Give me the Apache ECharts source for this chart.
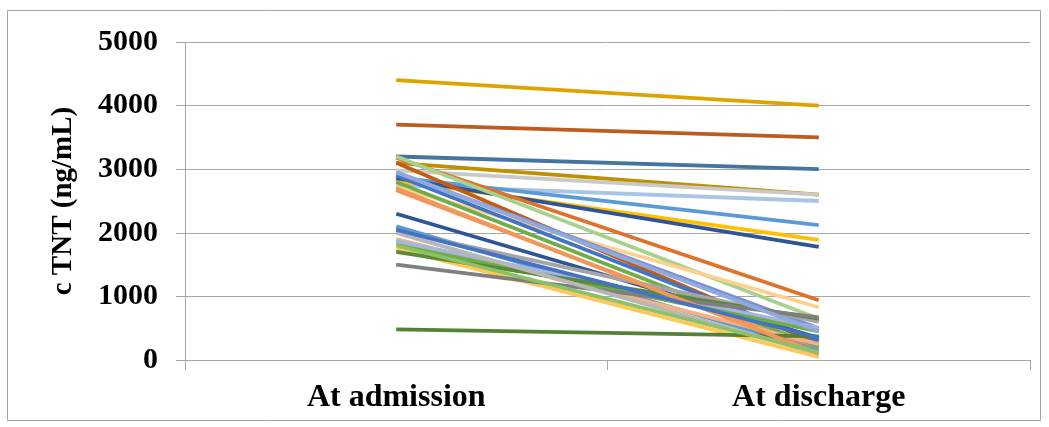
<!DOCTYPE html>
<html>
<head>
<meta charset="utf-8">
<script src="https://cdn.jsdelivr.net/npm/echarts@6/dist/echarts.min.js"></script>
<style>
html,body{margin:0;padding:0;background:#fff;}
#chart{width:1049px;height:427px;}
</style>
</head>
<body>
<div id="chart"></div>
<script>
const categories = ['At admission', 'At discharge'];
const yTicks = [0, 1000, 2000, 3000, 4000, 5000];
const atAdmission = [4400, 3700, 3200, 3100, 2980, 2750, 2870, 2820, 2860, 3180, 3200, 2720, 3100, 2950, 2900, 2800, 2670, 2300, 2100, 2030, 1900, 1870, 1810, 1750, 1700, 1500, 480, 2000, 2700, 2050, 2950, 1800];
const atDischarge = [4000, 3500, 3000, 2600, 2600, 2500, 2120, 1890, 1780, 940, 650, 830, 250, 500, 300, 200, 150, 350, 150, 600, 250, 500, 450, 50, 650, 670, 370, 100, 100, 350, 450, 120];
const palette = ['#DDA400', '#BE5B1E', '#44749F', '#BF9000', '#C9C9C9', '#A9C4E6', '#5B9BD5', '#FFC000', '#2F5597', '#E07128', '#A9D18E', '#FFD08C', '#C55A11', '#7A8FD6', '#4472C4', '#70AD47', '#F0915A', '#2F5597', '#5B9BD5', '#A5A5A5', '#F4B183', '#A5B4E0', '#70AD47', '#FFC857', '#5A8A39', '#7F7F7F', '#548235', '#B7B7B7', '#F1975A', '#4472C4', '#8FAADC', '#8CC168'];

const font = 'Liberation Serif, Times New Roman, serif';
const series = atAdmission.map((v, i) => ({
  type: 'line',
  name: 'Patient ' + (i + 1),
  data: [v, atDischarge[i]],
  showSymbol: false,
  symbol: 'none',
  lineStyle: { width: 3.8, color: palette[i] },
  itemStyle: { color: palette[i] },
  animation: false
}));

const chart = echarts.init(document.getElementById('chart'), null, { renderer: 'canvas' });
chart.setOption({
  animation: false,
  backgroundColor: '#fff',
  graphic: [{
    type: 'rect',
    shape: { x: 7.5, y: 10.5, width: 1033, height: 410 },
    style: { fill: null, stroke: '#A6A6A6', lineWidth: 1 },
    silent: true
  }],
  grid: { left: 185, right: 19, top: 42, bottom: 67, containLabel: false },
  xAxis: {
    type: 'category',
    data: categories,
    boundaryGap: true,
    axisLine: { show: true, lineStyle: { color: '#A6A6A6', width: 1 } },
    axisTick: { show: true, alignWithLabel: false, length: 10, lineStyle: { color: '#A6A6A6' } },
    axisLabel: { color: '#000', fontFamily: font, fontWeight: 'bold', fontSize: 32, margin: 22 },
    splitLine: { show: false }
  },
  yAxis: {
    type: 'value',
    min: yTicks[0],
    max: yTicks[yTicks.length - 1],
    interval: 1000,
    name: 'c TNT (ng/mL)',
    nameLocation: 'middle',
    nameRotate: 90,
    nameGap: 107,
    nameTextStyle: { color: '#000', fontFamily: font, fontWeight: 'bold', fontSize: 29 },
    axisLine: { show: true, lineStyle: { color: '#A6A6A6', width: 1 } },
    axisTick: { show: true, length: 9, lineStyle: { color: '#A6A6A6' } },
    axisLabel: { color: '#000', fontFamily: font, fontWeight: 'bold', fontSize: 30, margin: 27, formatter: v => String(v) },
    splitLine: { show: true, lineStyle: { color: '#A6A6A6', width: 1 } }
  },
  series: series
});
</script>
</body>
</html>
